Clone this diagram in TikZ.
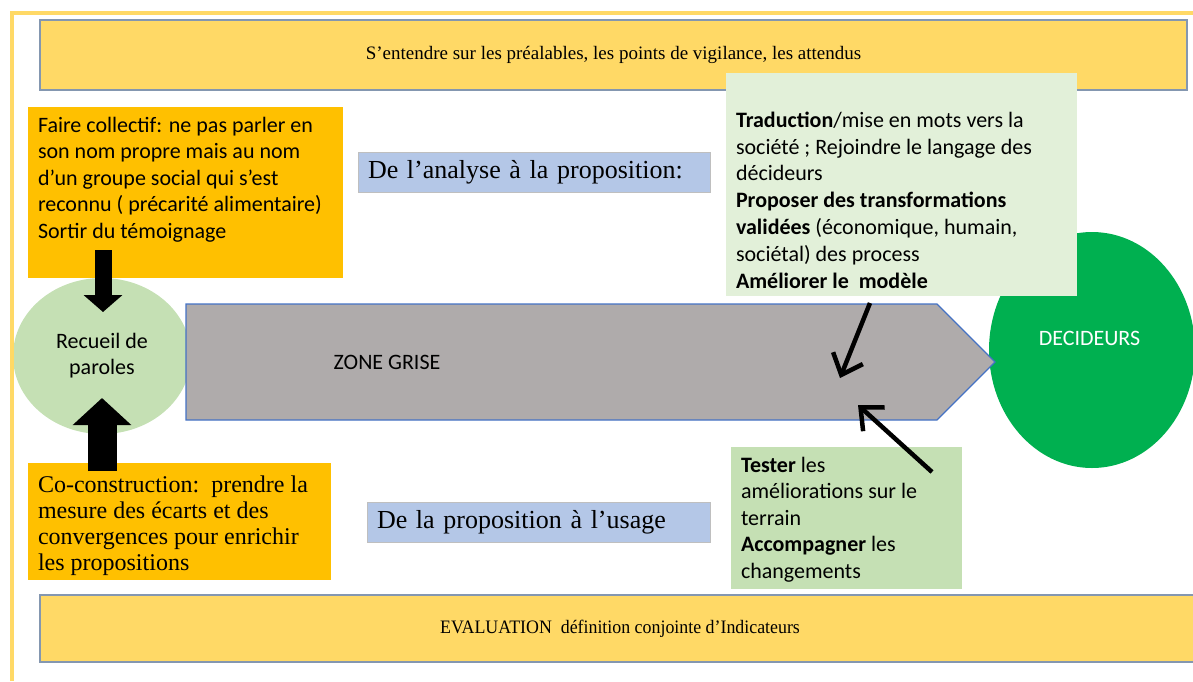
\documentclass[tikz,border=0pt]{standalone}
\usepackage{fontspec}
\setmainfont{Liberation Serif}
\setsansfont{Carlito}
\newfontfamily\narrowserif[FakeStretch=0.94]{Liberation Serif}
\usetikzlibrary{positioning,arrows.meta,shapes.geometric}

\definecolor{bannerfill}{RGB}{255,217,102}
\definecolor{bannerline}{RGB}{132,151,176}
\definecolor{framecol}{RGB}{255,217,102}
\definecolor{orangefill}{RGB}{255,192,0}
\definecolor{palegreen}{RGB}{197,224,180}
\definecolor{lightgreen}{RGB}{226,240,217}
\definecolor{decgreen}{RGB}{0,176,80}
\definecolor{greyzone}{RGB}{175,171,171}
\definecolor{zoneline}{RGB}{68,114,196}
\definecolor{stagefill}{RGB}{180,199,231}
\definecolor{stageline}{RGB}{191,191,191}

\newcommand{\boxlines}[4]{\parbox[c][#3][#1]{#2}{\raggedright #4}}

\begin{document}
\begin{tikzpicture}[x=1pt,y=-1pt]
                \tikzstyle{every node}=[inner sep=0pt, outer sep=0pt]
                \tikzstyle{banner}=[fill=bannerfill, draw=bannerline, line width=1.2pt, font=\rmfamily\fontsize{19}{22}\selectfont]
                \tikzstyle{notebox}=[anchor=north west, inner xsep=10pt, inner ysep=10pt, font=\sffamily\fontsize{22}{26.5}\selectfont]
                \tikzstyle{stage}=[fill=stagefill, draw=stageline, line width=0.8pt, anchor=north west, inner xsep=10pt, align=left, minimum height=40pt, font=\rmfamily\fontsize{26}{30}\selectfont]
                \tikzstyle{blob}=[ellipse, font=\sffamily\fontsize{22}{26}\selectfont, align=center]
                \tikzstyle{feedback}=[line width=4.5pt, -{Straight Barb[length=18pt, width=32pt]}]
                \useasboundingbox (0,0) rectangle (1193,681);
                \node (attendus)   [banner, minimum width=1147pt, minimum height=70pt]                 at (613.5,55)  { S’entendre sur les préalables, les points de vigilance, les attendus };
                \node (evaluation) [banner, font=\narrowserif\fontsize{19}{22}\selectfont, minimum width=1160pt, minimum height=67pt] at (620,628.5) { EVALUATION\ \ définition conjointe d’Indicateurs };
                \node (decideurs)  [blob, fill=decgreen, text=white, minimum width=206pt, minimum height=236pt, text depth=24pt] at (1092,350) { DECIDEURS };
                \node (recueil)    [blob, fill=palegreen, minimum width=178pt, minimum height=156pt]   at (102,356)   { Recueil de\\ paroles };
                \draw[fill=greyzone, draw=zoneline, line width=1.2pt] (186,304) -- (937,304) -- (995,362) -- (937,420) -- (186,420) -- cycle;
                \node (zone)       [font=\sffamily\fontsize{22}{26}\selectfont]                        at (387,362)   { ZONE GRISE };
                \node (traduction) [notebox, fill=lightgreen, inner ysep=8pt, font=\sffamily\fontsize{22}{26.8}\selectfont, minimum width=351pt, minimum height=223pt] at (726,73)
                    { \boxlines{b}{331pt}{207pt}{\textbf{Traduction}/mise en mots vers la\\ société ; Rejoindre le langage des\\ décideurs\\ \textbf{Proposer des transformations}\\ \textbf{validées} (économique, humain,\\ sociétal) des process\\ \textbf{Améliorer le\ \ modèle}} };
                \node (tester)     [notebox, fill=palegreen, minimum width=231pt, minimum height=142pt]  at (731,447)
                    { \boxlines{t}{211pt}{122pt}{\textbf{Tester} les\\ améliorations sur le\\ terrain\\ \textbf{Accompagner} les\\ changements} };
                \node (analyse)    [stage, text width=332pt]                                           at (358,152)   { De l’analyse à la proposition: };
                \node (usage)      [stage, text width=323pt]                                           at (367,502)   { De la proposition à l’usage };
                \node (faire)      [notebox, fill=orangefill, minimum width=315pt, minimum height=171pt] at (28,107)
                    { \boxlines{t}{295pt}{151pt}{Faire collectif: ne pas parler en\\ son nom propre mais au nom\\ d’un groupe social qui s’est\\ reconnu ( précarité alimentaire)\\ Sortir du témoignage} };
                \node (coconstr)   [notebox, fill=orangefill, inner ysep=13pt, font=\rmfamily\fontsize{24}{26}\selectfont, minimum width=303pt, minimum height=117pt] at (28,463)
                    { \boxlines{t}{283pt}{91pt}{Co-construction:\ \ prendre la\\ mesure des écarts et des\\ convergences pour enrichir\\ les propositions} };
                \coordinate (faireout)    at (103,250);
                \coordinate (recueiltop)  at (103,312);
                \coordinate (coconout)    at (102,471);
                \coordinate (recueilbot)  at (102,398);
                \coordinate (tradfoot)    at (870,303);
                \coordinate (zonein)      at (840,378);
                \coordinate (testerhead)  at (932,472);
                \coordinate (zoneback)    at (858,405);
                \draw[line width=17pt, -{Triangle[width=38pt, length=17pt]}] (faireout) -- (recueiltop);
                \draw[line width=29pt, -{Triangle[width=57pt, length=27pt]}] (coconout) -- (recueilbot);
                \draw[feedback] (tradfoot)   -- (zonein);
                \draw[feedback] (testerhead) -- (zoneback);
                \draw[framecol, line width=4pt] (12,681) -- (12,13) -- (1193,13);
            \end{tikzpicture}
\end{document}
